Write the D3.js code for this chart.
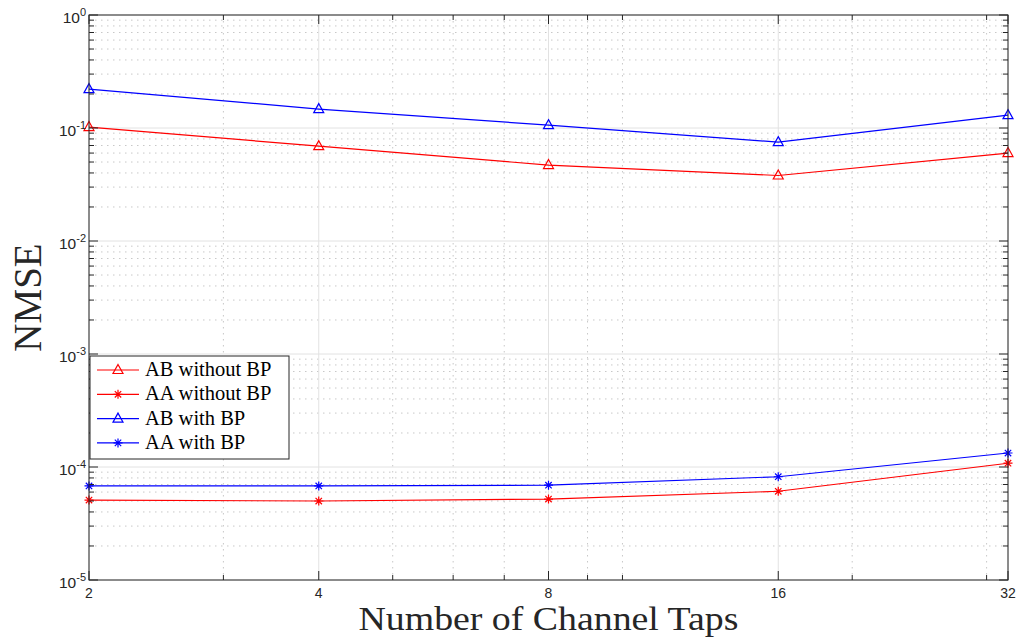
<!DOCTYPE html>
<html>
<head>
<meta charset="utf-8">
<script src="https://cdn.jsdelivr.net/npm/d3@7"></script>
<style>
  body { margin: 0; background: #fff; }
  svg { display: block; }
</style>
</head>
<body>
<div id="chart"></div>
<script>
// data
const taps = [2, 4, 8, 16, 32];
const abWithoutBP = [0.102, 0.069, 0.047, 0.038, 0.060];
const aaWithoutBP = [5.1e-5, 5.0e-5, 5.2e-5, 6.1e-5, 1.08e-4];
const abWithBP = [0.221, 0.147, 0.106, 0.075, 0.130];
const aaWithBP = [6.8e-5, 6.8e-5, 6.9e-5, 8.2e-5, 1.33e-4];

const xMajor = [2, 4, 8, 16, 32];
const xMinor = [3, 5, 6, 7, 9, 10, 20, 30];
const yExponents = [0, -1, -2, -3, -4, -5];

const seriesNames = ["AB without BP", "AA without BP", "AB with BP", "AA with BP"];

const series = [
  {name: seriesNames[0], values: abWithoutBP, color: "#ff0000", marker: "tri"},
  {name: seriesNames[1], values: aaWithoutBP, color: "#ff0000", marker: "star"},
  {name: seriesNames[2], values: abWithBP, color: "#0000ff", marker: "tri"},
  {name: seriesNames[3], values: aaWithBP, color: "#0000ff", marker: "star"}
];

const W = 1016, H = 639;
const plot = {left: 89, right: 1008, top: 15, bottom: 580};
const axisColor = "#262626";

const svg = d3.select("#chart").append("svg")
    .attr("width", W)
    .attr("height", H)
    .style("background", "#fff");

const x = d3.scaleLog().base(2).domain([2, 32]).range([plot.left, plot.right]);
const y = d3.scaleLog().domain([1e-5, 1]).range([plot.bottom, plot.top]);

// minor y values: 2..9 in each decade
const yMinor = [];
for (let e = -5; e < 0; e++) {
  for (let k = 2; k <= 9; k++) yMinor.push(k * Math.pow(10, e));
}
const yMajor = yExponents.map(e => Math.pow(10, e));

// grid
const grid = svg.append("g");
grid.selectAll(".xminor").data(xMinor).join("line")
    .attr("x1", d => x(d)).attr("x2", d => x(d))
    .attr("y1", plot.top).attr("y2", plot.bottom)
    .attr("stroke", "#c8c8c8").attr("stroke-width", 1)
    .attr("stroke-dasharray", "1.5,4.5");
grid.selectAll(".yminor").data(yMinor).join("line")
    .attr("y1", d => y(d)).attr("y2", d => y(d))
    .attr("x1", plot.left).attr("x2", plot.right)
    .attr("stroke", "#c8c8c8").attr("stroke-width", 1)
    .attr("stroke-dasharray", "1.5,4.5");
grid.selectAll(".xmajor").data(xMajor).join("line")
    .attr("x1", d => x(d)).attr("x2", d => x(d))
    .attr("y1", plot.top).attr("y2", plot.bottom)
    .attr("stroke", "#e2e2e2").attr("stroke-width", 1);
grid.selectAll(".ymajor").data(yMajor).join("line")
    .attr("y1", d => y(d)).attr("y2", d => y(d))
    .attr("x1", plot.left).attr("x2", plot.right)
    .attr("stroke", "#e2e2e2").attr("stroke-width", 1);

// marker drawing
function drawMarker(g, type, color) {
  if (type === "tri") {
    g.append("path")
        .attr("d", "M0,-5.5 L5,3.5 L-5,3.5 Z")
        .attr("fill", "none")
        .attr("stroke", color)
        .attr("stroke-width", 1.2);
  } else {
    g.append("path")
        .attr("d", "M-4.5,0 L4.5,0 M0,-4.5 L0,4.5 M-3.2,-3.2 L3.2,3.2 M-3.2,3.2 L3.2,-3.2")
        .attr("stroke", color)
        .attr("stroke-width", 1.2);
  }
}

// data lines
const line = d3.line()
    .x(d => x(d[0]))
    .y(d => y(d[1]));

const dataG = svg.append("g");
series.forEach(s => {
  const pts = taps.map((t, i) => [t, s.values[i]]);
  dataG.append("path")
      .datum(pts)
      .attr("d", line)
      .attr("fill", "none")
      .attr("stroke", s.color)
      .attr("stroke-width", 1.2);
  dataG.selectAll(null).data(pts).join("g")
      .attr("transform", d => `translate(${x(d[0])},${y(d[1])})`)
      .each(function() { drawMarker(d3.select(this), s.marker, s.color); });
});

// axes box and ticks
const axes = svg.append("g").attr("stroke", axisColor).attr("stroke-width", 1);
axes.append("rect")
    .attr("x", plot.left).attr("y", plot.top)
    .attr("width", plot.right - plot.left).attr("height", plot.bottom - plot.top)
    .attr("fill", "none");

const majLen = 9, minLen = 5;
xMajor.forEach(v => {
  axes.append("line").attr("x1", x(v)).attr("x2", x(v)).attr("y1", plot.bottom).attr("y2", plot.bottom - majLen);
  axes.append("line").attr("x1", x(v)).attr("x2", x(v)).attr("y1", plot.top).attr("y2", plot.top + majLen);
});
xMinor.forEach(v => {
  axes.append("line").attr("x1", x(v)).attr("x2", x(v)).attr("y1", plot.bottom).attr("y2", plot.bottom - minLen);
  axes.append("line").attr("x1", x(v)).attr("x2", x(v)).attr("y1", plot.top).attr("y2", plot.top + minLen);
});
yMajor.forEach(v => {
  axes.append("line").attr("y1", y(v)).attr("y2", y(v)).attr("x1", plot.left).attr("x2", plot.left + majLen);
  axes.append("line").attr("y1", y(v)).attr("y2", y(v)).attr("x1", plot.right).attr("x2", plot.right - majLen);
});
yMinor.forEach(v => {
  axes.append("line").attr("y1", y(v)).attr("y2", y(v)).attr("x1", plot.left).attr("x2", plot.left + minLen);
  axes.append("line").attr("y1", y(v)).attr("y2", y(v)).attr("x1", plot.right).attr("x2", plot.right - minLen);
});

// tick labels
const tickFont = "'Liberation Sans', Arial, Helvetica, sans-serif";
svg.append("g").selectAll("text").data(xMajor).join("text")
    .attr("x", d => x(d))
    .attr("y", plot.bottom + 18)
    .attr("text-anchor", "middle")
    .attr("font-family", tickFont)
    .attr("font-size", 14)
    .attr("fill", axisColor)
    .text(d => d);

const yLab = svg.append("g").selectAll("text").data(yExponents).join("text")
    .attr("x", plot.left - 3)
    .attr("y", d => y(Math.pow(10, d)) + 8)
    .attr("text-anchor", "end")
    .attr("font-family", tickFont)
    .attr("font-size", 15.5)
    .attr("fill", axisColor);
yLab.append("tspan").text("10");
yLab.append("tspan")
    .attr("dy", -7)
    .attr("font-size", 11)
    .text(d => d === 0 ? "0" : String(d));

// axis titles
const titleFont = "'Liberation Serif', 'Times New Roman', serif";
svg.append("text")
    .attr("x", (plot.left + plot.right) / 2)
    .attr("y", 630)
    .attr("text-anchor", "middle")
    .attr("font-family", titleFont)
    .attr("font-size", 34)
    .attr("textLength", 380)
    .attr("lengthAdjust", "spacingAndGlyphs")
    .attr("fill", axisColor)
    .text("Number of Channel Taps");

svg.append("text")
    .attr("transform", `translate(41,${(plot.top + plot.bottom) / 2}) rotate(-90)`)
    .attr("text-anchor", "middle")
    .attr("font-family", titleFont)
    .attr("font-size", 39)
    .attr("fill", axisColor)
    .text("NMSE");

// legend
const leg = svg.append("g").attr("transform", "translate(90,356)");
leg.append("rect")
    .attr("width", 199).attr("height", 103)
    .attr("fill", "#fff")
    .attr("stroke", axisColor)
    .attr("stroke-width", 1);
series.forEach((s, i) => {
  const row = leg.append("g").attr("transform", `translate(0,${14 + i * 24.3})`);
  row.append("line")
      .attr("x1", 7).attr("x2", 49)
      .attr("stroke", s.color).attr("stroke-width", 1.2);
  drawMarker(row.append("g").attr("transform", "translate(28,0)"), s.marker, s.color);
  row.append("text")
      .attr("x", 55)
      .attr("y", 6)
      .attr("font-family", titleFont)
      .attr("font-size", 20.5)
      .attr("fill", "#000")
      .text(s.name);
});
</script>
</body>
</html>
